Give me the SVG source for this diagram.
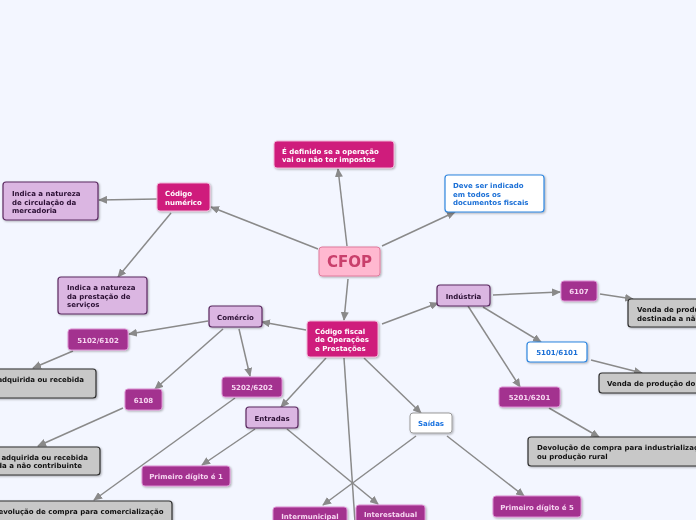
<svg xmlns="http://www.w3.org/2000/svg" width="696" height="520" viewBox="0 0 696 520">
<style>
text{font-family:"DejaVu Sans","Verdana",sans-serif;font-weight:bold;font-size:7px}
.c{text-anchor:middle}
.e{text-anchor:end}
.mag rect{fill:#cf1b7c;stroke:#f0b6d6;stroke-width:1}
.mag text{fill:#ffffff}
.pur rect{fill:#a3308f;stroke:#dc8fd2;stroke-width:1}
.pur text{fill:#f6d6f0}
.lil rect{fill:#dbb6e2;stroke:#5a2a60;stroke-width:1.2}
.lil text{fill:#2a0f33}
.gry rect{fill:#c8c8c8;stroke:#2e2e2e;stroke-width:1.2}
.gry text{fill:#111111}
.blu rect{fill:#ffffff;stroke:#2f86e0;stroke-width:1.2}
.blu text{fill:#1a6fd6}
.wht rect{fill:#ffffff;stroke:#9a9a9a;stroke-width:1}
.wht text{fill:#1a73e0}
#connectors line{stroke:#8a8a8a;stroke-width:1.5;fill:none;marker-end:url(#arr)}
#connectors line.na{marker-end:none}
</style>
<defs>
<marker id="arr" markerUnits="userSpaceOnUse" markerWidth="9" markerHeight="8" refX="8" refY="4" orient="auto">
<path d="M0,0 L9,4 L0,8 z" fill="#8a8a8a"/>
</marker>
<filter id="sh" x="-10%" y="-20%" width="130%" height="150%">
<feDropShadow dx="1" dy="1" stdDeviation="0.8" flood-color="#000" flood-opacity="0.3"/>
</filter>
</defs>
<rect width="696" height="520" fill="#f3f6ff"/>
<g id="connectors">
<line x1="347" y1="246" x2="338" y2="169"/>
<line x1="382" y1="246" x2="455" y2="212"/>
<line x1="318" y1="249" x2="211" y2="207"/>
<line x1="157" y1="199" x2="99" y2="200"/>
<line x1="171" y1="213" x2="118" y2="277"/>
<line x1="348" y1="279" x2="344" y2="320"/>
<line x1="306" y1="330" x2="262" y2="322"/>
<line x1="382" y1="324" x2="438" y2="303"/>
<line x1="326" y1="358" x2="281" y2="407"/>
<line x1="364" y1="358" x2="421" y2="413"/>
<line class="na" x1="344" y1="358" x2="355" y2="522"/>
<line x1="208" y1="321" x2="129" y2="334"/>
<line x1="223" y1="329" x2="155" y2="389"/>
<line x1="239" y1="329" x2="250" y2="376"/>
<line x1="73" y1="351" x2="33" y2="368"/>
<line x1="123" y1="408" x2="38" y2="446"/>
<line x1="235" y1="398" x2="94" y2="500"/>
<line x1="255" y1="429" x2="202" y2="465"/>
<line x1="287" y1="429" x2="378" y2="504"/>
<line x1="416" y1="436" x2="323" y2="505"/>
<line x1="447" y1="436" x2="524" y2="496"/>
<line x1="493" y1="295" x2="560" y2="292"/>
<line x1="483" y1="307" x2="541" y2="342"/>
<line x1="468" y1="306" x2="520" y2="387"/>
<line x1="600" y1="294" x2="633" y2="299"/>
<line x1="591" y1="360" x2="642" y2="373"/>
<line x1="549" y1="408" x2="599" y2="437"/>
</g>
<g id="cfop" filter="url(#sh)">
<rect x="319" y="247" width="61" height="29" rx="3" fill="#ffb8d0" stroke="#e07a9d" stroke-width="1"/>
<text x="349.5" y="267" class="c" style="font-size:15px" fill="#c9406c">CFOP</text>
</g>
<g id="definido" class="mag" filter="url(#sh)">
<rect x="274" y="141" width="120" height="27" rx="3"/>
<text x="282"><tspan x="282" y="153.5">É definido se a operação</tspan><tspan x="282" y="162">vai ou não ter impostos</tspan></text>
</g>
<g id="deve" class="blu" filter="url(#sh)">
<rect x="445" y="175" width="99" height="37" rx="3"/>
<text><tspan x="453" y="187.5">Deve ser indicado</tspan><tspan x="453" y="196.5">em todos os</tspan><tspan x="453" y="205">documentos fiscais</tspan></text>
</g>
<g id="codnum" class="mag" filter="url(#sh)">
<rect x="157" y="183" width="53" height="28" rx="3"/>
<text><tspan x="165" y="196">Código</tspan><tspan x="165" y="204.5">numérico</tspan></text>
</g>
<g id="circ" class="lil" filter="url(#sh)">
<rect x="3" y="182" width="95" height="38" rx="3"/>
<text><tspan x="12" y="196">Indica a natureza</tspan><tspan x="12" y="204.5">de circulação da</tspan><tspan x="12" y="213">mercadoria</tspan></text>
</g>
<g id="prest" class="lil" filter="url(#sh)">
<rect x="58" y="277" width="89" height="37" rx="3"/>
<text><tspan x="67" y="290">Indica a natureza</tspan><tspan x="67" y="298.5">da prestação de</tspan><tspan x="67" y="307">serviços</tspan></text>
</g>
<g id="comercio" class="lil" filter="url(#sh)">
<rect x="209" y="306" width="53" height="21" rx="3"/>
<text x="235.5" y="319.5" class="c">Comércio</text>
</g>
<g id="n5102" class="pur" filter="url(#sh)">
<rect x="68" y="329" width="60" height="21" rx="3"/>
<text x="98" y="342.5" class="c">5102/6102</text>
</g>
<g id="codfiscal" class="mag" filter="url(#sh)">
<rect x="307" y="321" width="71" height="36" rx="3"/>
<text><tspan x="315" y="333.5">Código fiscal</tspan><tspan x="315" y="342">de Operações</tspan><tspan x="315" y="350.5">e Prestações</tspan></text>
</g>
<g id="industria" class="lil" filter="url(#sh)">
<rect x="437" y="285" width="53" height="21" rx="3"/>
<text x="463.5" y="298.5" class="c">Indústria</text>
</g>
<g id="n6107" class="pur" filter="url(#sh)">
<rect x="561" y="281" width="36" height="20" rx="3"/>
<text x="579" y="293.5" class="c">6107</text>
</g>
<g id="venda1" class="gry" filter="url(#sh)">
<rect x="628" y="299" width="160" height="28" rx="3"/>
<text><tspan x="637" y="312">Venda de produção do estabelecimento</tspan><tspan x="637" y="320.5">destinada a não contribuinte</tspan></text>
</g>
<g id="n5101" class="blu" filter="url(#sh)">
<rect x="527" y="342" width="60" height="20" rx="3"/>
<text x="557" y="355" class="c">5101/6101</text>
</g>
<g id="venda2" class="gry" filter="url(#sh)">
<rect x="599" y="373" width="160" height="20" rx="3"/>
<text x="607" y="386">Venda de produção do estabelecimento</text>
</g>
<g id="n5201" class="pur" filter="url(#sh)">
<rect x="499" y="387" width="61" height="20" rx="3"/>
<text x="529.5" y="400" class="c">5201/6201</text>
</g>
<g id="devind" class="gry" filter="url(#sh)">
<rect x="528" y="437" width="200" height="29" rx="3"/>
<text><tspan x="537" y="450">Devolução de compra para industrialização</tspan><tspan x="537" y="459">ou produção rural</tspan></text>
</g>
<g id="prim5" class="pur" filter="url(#sh)">
<rect x="493" y="496" width="88" height="21" rx="3"/>
<text x="537" y="509.5" class="c">Primeiro dígito é 5</text>
</g>
<g id="saidas" class="wht" filter="url(#sh)">
<rect x="410" y="413" width="42" height="20" rx="3"/>
<text x="431" y="426" class="c">Saídas</text>
</g>
<g id="entradas" class="lil" filter="url(#sh)">
<rect x="246" y="407" width="52" height="21" rx="3"/>
<text x="272" y="420.5" class="c">Entradas</text>
</g>
<g id="n5202" class="pur" filter="url(#sh)">
<rect x="222" y="377" width="60" height="20" rx="3"/>
<text x="252" y="390" class="c">5202/6202</text>
</g>
<g id="prim1" class="pur" filter="url(#sh)">
<rect x="142" y="466" width="88" height="20" rx="3"/>
<text x="186" y="479" class="c">Primeiro dígito é 1</text>
</g>
<g id="n6108" class="pur" filter="url(#sh)">
<rect x="125" y="389" width="37" height="21" rx="3"/>
<text x="143.5" y="402.5" class="c">6108</text>
</g>
<g id="gray1" class="gry" filter="url(#sh)">
<rect x="-110" y="369" width="206" height="29" rx="3"/>
<text x="84" y="382" class="e">Venda de mercadoria adquirida ou recebida</text>
</g>
<g id="gray2" class="gry" filter="url(#sh)">
<rect x="-110" y="447" width="210" height="28" rx="3"/>
<text class="e"><tspan x="88" y="459.5">Venda de mercadoria adquirida ou recebida</tspan><tspan x="82" y="468">de terceiros, destinada a não contribuinte</tspan></text>
</g>
<g id="gray3" class="gry" filter="url(#sh)">
<rect x="-14" y="501" width="186" height="28" rx="3"/>
<text x="163.5" y="513.5" class="e">Devolução de compra para comercialização</text>
</g>
<g id="intermun" class="pur" filter="url(#sh)">
<rect x="273" y="507" width="74" height="24" rx="3"/>
<text x="310" y="519" class="c">Intermunicipal</text>
</g>
<g id="interest" class="pur" filter="url(#sh)">
<rect x="356" y="505" width="69" height="24" rx="3"/>
<text x="390.5" y="517" class="c">Interestadual</text>
</g>
</svg>
